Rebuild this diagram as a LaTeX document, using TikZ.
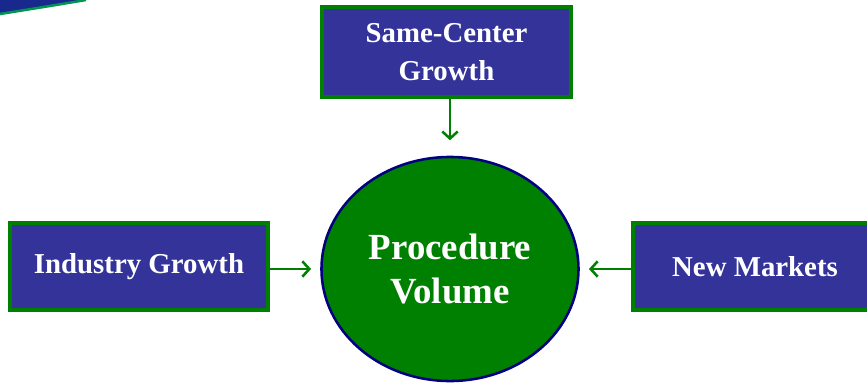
\documentclass[tikz,border=0pt]{standalone}
\usepackage{fontspec}
\setmainfont{Liberation Serif}
\usetikzlibrary{shapes.geometric, arrows.meta, positioning}
\definecolor{boxblue}{RGB}{51,51,153}
\definecolor{edgegreen}{RGB}{0,128,0}
\definecolor{hubgreen}{RGB}{0,128,0}
\definecolor{hubedge}{RGB}{0,0,128}
\definecolor{swooshblue}{RGB}{25,40,140}
\definecolor{swooshgreen}{RGB}{0,150,80}
\tikzstyle{driver} = [rectangle, draw=edgegreen, line width=2.4pt, fill=boxblue, text=white, font=\fontsize{20.5}{27}\selectfont\bfseries, align=center]
\tikzstyle{hub} = [ellipse, draw=hubedge, line width=1.8pt, fill=hubgreen, text=white, font=\fontsize{26.2}{31}\selectfont\bfseries, align=center, inner sep=0pt, minimum width=6.425cm, minimum height=5.6cm]
\tikzstyle{arrow} = [draw=edgegreen, line width=1.8pt, -{Straight Barb[length=5pt,width=11pt]}]

\begin{document}
\begin{tikzpicture}[x=0.025cm, y=-0.025cm]
        \useasboundingbox (0,0) rectangle (867,382);
        \clip (0,0) rectangle (867,382);

        % Corner swoosh
        \fill[swooshblue] (0,0) -- (86,0) .. controls (50,6) .. (0,14) -- cycle;
        \draw[swooshgreen, line width=1.8pt] (86,0) .. controls (50,6) .. (0,14);

        % Growth drivers
        \node[driver, minimum width=6.225cm, minimum height=2.25cm] (same) at (446.5,52) {Same-Center\\Growth};
        \node[driver, minimum width=6.45cm, minimum height=2.175cm] (ind) at (139,266.5) {Industry Growth};
        \node[driver, minimum width=6.1cm, minimum height=2.175cm] (new) at (755,266.5) {New Markets};

        % Procedure volume
        \node[hub] (vol) at (450,269) {Procedure\\Volume};

        % Arrows into the volume
        \draw[arrow, shorten >=11pt] (vol.north |- same.south) -- (vol.north);
        \draw[arrow, shorten >=6.5pt] (vol.west -| ind.east) -- (vol.west);
        \draw[arrow, shorten >=6.5pt] (vol.east -| new.west) -- (vol.east);
    \end{tikzpicture}
\end{document}
